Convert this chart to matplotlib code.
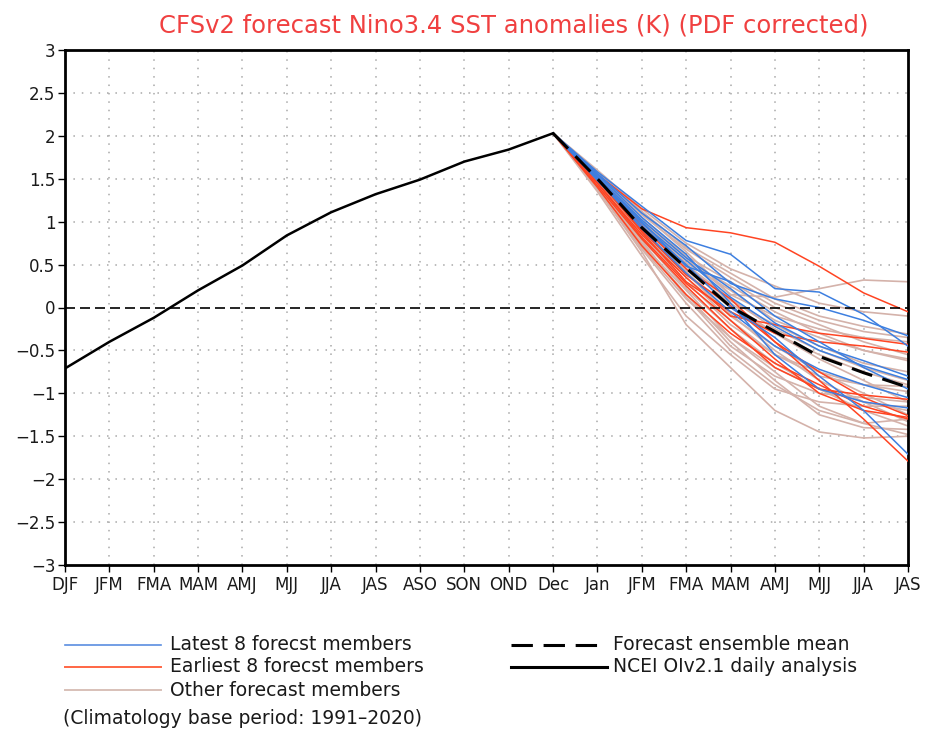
import matplotlib
matplotlib.use("Agg")
import matplotlib.pyplot as plt
from matplotlib.lines import Line2D

plt.rcParams['font.family'] = ['DejaVu Sans']

# x-axis categories (observed seasons, then forecast months/seasons)
tick_labels = ["DJF", "JFM", "FMA", "MAM", "AMJ", "MJJ", "JJA", "JAS", "ASO",
               "SON", "OND", "Dec", "Jan", "JFM", "FMA", "MAM", "AMJ", "MJJ",
               "JJA", "JAS"]

# NCEI OIv2.1 observed anomalies (DJF .. Dec)
analysis = [-0.71, -0.40, -0.12, 0.20, 0.49, 0.84, 1.11, 1.32, 1.49, 1.70,
            1.84, 2.03]

# forecast start value (Dec) and ensemble mean (Dec .. JAS)
start_value = 2.03
ens_mean = [2.03, 1.50, 0.93, 0.46, 0.01, -0.28, -0.57, -0.76, -0.93]

# members: values for Jan, JFM, FMA, MAM, AMJ, MJJ, JJA, JAS
latest_members = [
    [1.58, 1.18, 0.78, 0.62, 0.22, 0.18, -0.08, -0.45],
    [1.56, 1.10, 0.72, 0.28, 0.10, 0.00, -0.15, -0.33],
    [1.52, 1.02, 0.58, 0.22, -0.18, -0.45, -0.62, -0.80],
    [1.50, 0.98, 0.55, 0.12, -0.22, -0.50, -0.68, -0.84],
    [1.55, 1.05, 0.62, 0.05, -0.55, -0.95, -1.10, -1.17],
    [1.48, 0.95, 0.50, 0.00, -0.35, -0.80, -1.20, -1.71],
    [1.53, 1.00, 0.48, 0.30, -0.10, -0.40, -0.70, -0.95],
    [1.50, 0.92, 0.40, -0.05, -0.45, -0.72, -0.90, -1.05],
]
earliest_members = [
    [1.55, 1.15, 0.93, 0.87, 0.76, 0.48, 0.17, -0.05],
    [1.45, 0.85, 0.35, -0.10, -0.20, -0.30, -0.36, -0.43],
    [1.50, 0.88, 0.30, -0.05, -0.30, -0.40, -0.45, -0.52],
    [1.42, 0.80, 0.25, -0.25, -0.70, -0.95, -1.02, -1.07],
    [1.48, 0.90, 0.38, 0.02, -0.40, -0.75, -1.05, -1.26],
    [1.40, 0.72, 0.15, -0.30, -0.65, -0.90, -1.15, -1.30],
    [1.52, 0.95, 0.45, 0.10, -0.40, -0.85, -1.30, -1.79],
    [1.45, 0.82, 0.28, -0.15, -0.60, -1.00, -1.20, -1.28],
]
other_members = [
    [1.57, 1.10, 0.65, 0.15, 0.12, 0.22, 0.32, 0.30],
    [1.60, 1.15, 0.75, 0.45, 0.25, 0.05, -0.05, -0.10],
    [1.58, 1.12, 0.70, 0.40, 0.10, -0.10, -0.22, -0.31],
    [1.55, 1.08, 0.68, 0.35, 0.05, -0.15, -0.28, -0.35],
    [1.50, 0.98, 0.52, 0.20, -0.15, -0.35, -0.50, -0.60],
    [1.47, 0.90, 0.40, 0.00, -0.30, -0.55, -0.75, -0.90],
    [1.45, 0.85, 0.30, -0.20, -0.55, -0.75, -0.90, -0.98],
    [1.40, 0.70, 0.10, -0.35, -0.70, -0.95, -1.10, -1.20],
    [1.35, 0.60, -0.10, -0.55, -0.95, -1.10, -1.15, -1.15],
    [1.38, 0.65, -0.20, -0.70, -1.20, -1.45, -1.52, -1.50],
    [1.42, 0.75, 0.15, -0.40, -0.85, -1.25, -1.40, -1.42],
    [1.50, 0.95, 0.45, 0.05, -0.30, -0.60, -0.85, -1.10],
    [1.53, 1.00, 0.55, 0.25, -0.05, -0.30, -0.50, -0.62],
    [1.48, 0.92, 0.42, -0.08, -0.50, -0.85, -1.10, -1.33],
    [1.44, 0.80, 0.22, -0.25, -0.65, -0.95, -1.20, -1.38],
    [1.52, 0.98, 0.50, 0.10, -0.25, -0.50, -0.70, -0.85],
    [1.46, 0.88, 0.35, -0.15, -0.55, -0.80, -0.90, -0.92],
    [1.43, 0.78, 0.12, -0.45, -0.80, -1.00, -1.05, -1.10],
    [1.55, 1.05, 0.60, 0.30, 0.00, -0.20, -0.40, -0.55],
    [1.49, 0.93, 0.40, -0.10, -0.45, -0.75, -1.00, -1.25],
    [1.41, 0.74, 0.20, -0.35, -0.75, -1.15, -1.35, -1.48],
    [1.54, 1.02, 0.58, 0.15, -0.10, -0.25, -0.35, -0.40],
    [1.37, 0.68, 0.05, -0.50, -0.90, -1.20, -1.35, -1.30],
    [1.51, 0.97, 0.48, 0.08, -0.20, -0.45, -0.65, -0.75],
]

y_ticks = [-3, -2.5, -2, -1.5, -1, -0.5, 0, 0.5, 1, 1.5, 2, 2.5, 3]
y_tick_labels = ["\u22123", "\u22122.5", "\u22122", "\u22121.5", "\u22121",
                 "\u22120.5", "0", "0.5", "1", "1.5", "2", "2.5", "3"]

c_latest = "#3d7fe0"
c_earliest = "#ff4422"
c_other = "#d4b2aa"
txt = "#1a1a1a"

W, H = 933, 735
fig = plt.figure(figsize=(W / 100, H / 100), dpi=100)
ax = fig.add_axes([65 / W, 1 - 565 / H, (908 - 65) / W, (565 - 50) / H])

n = len(tick_labels)
x_obs = list(range(len(analysis)))
x_fc = list(range(len(analysis) - 1, n))

ax.set_xlim(0, n - 1)
ax.set_ylim(-3, 3)

# dotted grid
for xv in range(1, n - 1):
    ax.axvline(xv, color="#a8a8a8", lw=1.1, ls=(0, (1, 4.5)), zorder=0)
for yv in y_ticks[1:-1]:
    if yv != 0:
        ax.axhline(yv, color="#a8a8a8", lw=1.1, ls=(0, (1, 4.5)), zorder=0)

for m in other_members:
    ax.plot(x_fc, [start_value] + m, color=c_other, lw=1.2, zorder=2)
for m in earliest_members:
    ax.plot(x_fc, [start_value] + m, color=c_earliest, lw=1.1, zorder=3)
for m in latest_members:
    ax.plot(x_fc, [start_value] + m, color=c_latest, lw=1.1, zorder=4)

ax.axhline(0, color="black", lw=1.2, ls=(0, (6, 3)), zorder=5)
ax.plot(x_fc, ens_mean, color="black", lw=2.2, ls=(0, (7, 3.5)), zorder=6)
ax.plot(x_obs, analysis, color="black", lw=1.8, zorder=6)

ax.set_xticks(range(n))
ax.set_xticklabels(tick_labels)
ax.set_yticks(y_ticks)
ax.set_yticklabels(y_tick_labels)
ax.tick_params(axis="both", direction="out", length=5, width=1,
               labelsize=12, colors="black", labelcolor=txt)
ax.tick_params(axis="x", pad=3)
ax.tick_params(axis="y", pad=2)
for s in ax.spines.values():
    s.set_linewidth(2)
    s.set_color("black")

fig.text(514 / W, 1 - 26 / H,
         "CFSv2 forecast Nino3.4 SST anomalies (K) (PDF corrected)",
         ha="center", va="center", color="#f04040", fontsize=17.5)

# legend drawn in figure coordinates
def legend_line(x0, x1, y, **kw):
    fig.add_artist(Line2D([x0 / W, x1 / W], [1 - y / H, 1 - y / H], **kw))

def legend_text(x, y, s):
    fig.text(x / W, 1 - y / H, s, ha="left", va="center", fontsize=13.5,
             color=txt)

legend_line(65, 161, 645, color="#5a8ee0", lw=1.2)
legend_text(170, 645, "Latest 8 forecst members")
legend_line(65, 161, 667, color="#ff6644", lw=1.4)
legend_text(170, 667, "Earliest 8 forecst members")
legend_line(65, 161, 690, color="#d8c0b8", lw=1.4)
legend_text(170, 690, "Other forecast members")
legend_line(511, 607, 645, color="black", lw=2.2, ls=(0, (7, 3.5)))
legend_text(613, 645, "Forecast ensemble mean")
legend_line(511, 607, 667, color="black", lw=2.2)
legend_text(613, 667, "NCEI OIv2.1 daily analysis")
legend_text(63, 718, "(Climatology base period: 1991\u20132020)")

fig.savefig("out.png", dpi=100, facecolor="white")
